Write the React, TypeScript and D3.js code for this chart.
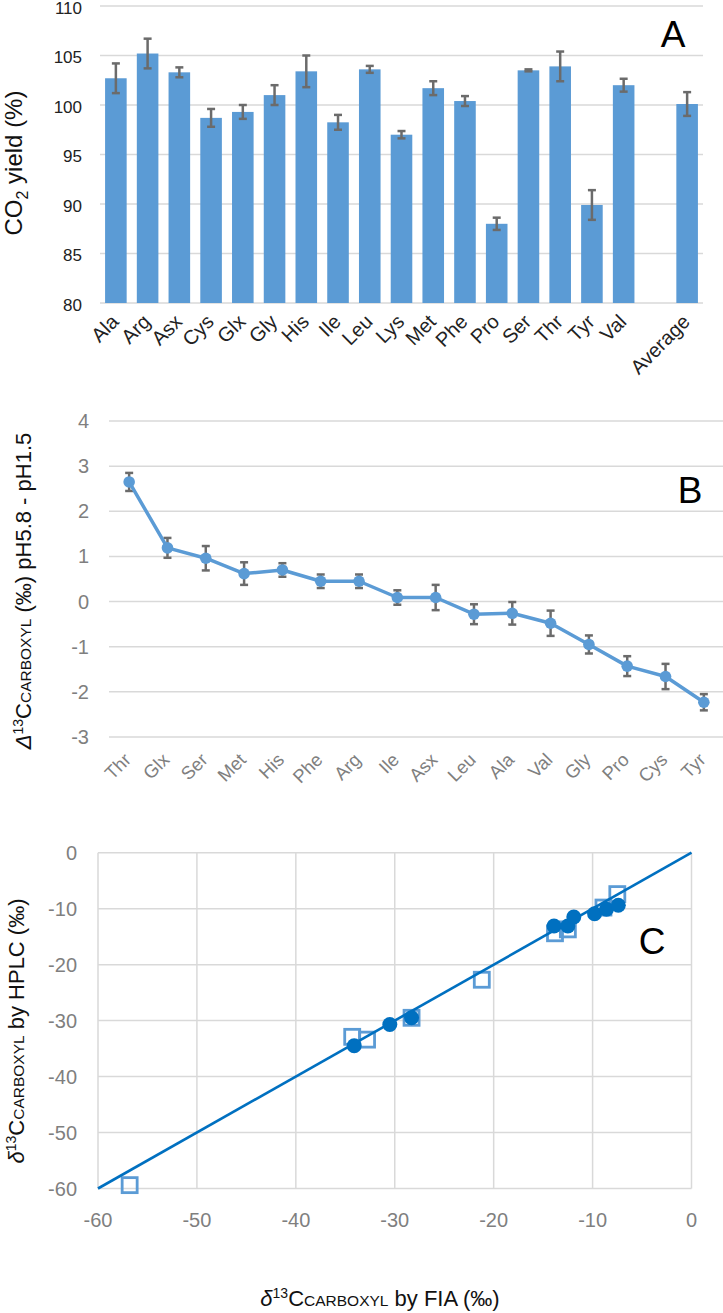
import React from "react";
import * as d3 from "d3";

const FONT = "'Liberation Sans', Arial, Helvetica, sans-serif";

// Panel A: CO2 yield (%)
const aCategories = ["Ala", "Arg", "Asx", "Cys", "Glx", "Gly", "His", "Ile", "Leu", "Lys", "Met", "Phe", "Pro", "Ser", "Thr", "Tyr", "Val", "", "Average"];
const aValues = [102.7, 105.2, 103.3, 98.7, 99.3, 101.0, 103.4, 98.25, 103.6, 97.0, 101.7, 100.4, 88.0, 103.5, 103.9, 89.9, 102.0, null, 100.1];
const aErrors = [1.5, 1.5, 0.5, 0.9, 0.7, 1.0, 1.6, 0.75, 0.35, 0.37, 0.7, 0.5, 0.62, 0.1, 1.5, 1.5, 0.65, null, 1.2];
const aTicks = [80, 85, 90, 95, 100, 105, 110];

// Panel B: Δ13C carboxyl pH5.8 - pH1.5
const bCategories = ["Thr", "Glx", "Ser", "Met", "His", "Phe", "Arg", "Ile", "Asx", "Leu", "Ala", "Val", "Gly", "Pro", "Cys", "Tyr"];
const bValues = [2.65, 1.19, 0.96, 0.62, 0.70, 0.45, 0.45, 0.09, 0.09, -0.28, -0.26, -0.48, -0.95, -1.43, -1.66, -2.23];
const bErrors = [0.2, 0.22, 0.27, 0.25, 0.15, 0.15, 0.15, 0.16, 0.28, 0.22, 0.25, 0.28, 0.2, 0.22, 0.28, 0.18];
const bTicks = [-3, -2, -1, 0, 1, 2, 3, 4];

// Panel C: δ13C carboxyl by FIA vs HPLC
const cSquareFIA = [-56.8, -34.3, -32.8, -28.3, -21.2, -13.8, -12.5, -8.9, -7.5];
const cSquareHPLC = [-59.4, -32.9, -33.4, -29.5, -22.7, -14.4, -13.7, -9.8, -7.4];
const cCircleFIA = [-34.1, -30.5, -28.3, -13.9, -12.5, -11.9, -9.8, -8.6, -7.4];
const cCircleHPLC = [-34.5, -30.7, -29.5, -13.1, -13.1, -11.5, -10.9, -10.1, -9.4];
const cLine = [[-60, -60], [0, 0]];
const cTicks = [-60, -50, -40, -30, -20, -10, 0];

const GRID = "#d9d9d9";
const BAR = "#5B9BD5";
const ERR = "#6b6b6b";
const DARK = "#0070C0";
const TICKGRAY = "#7f7f7f";

function PanelA() {
  const x = d3.scaleBand().domain(aCategories).range([100, 703]).paddingInner(0.32).paddingOuter(0.16);
  const y = d3.scaleLinear().domain([80, 110]).range([303, 6]);
  const bw = x.bandwidth();
  return (
    <g>
      {aTicks.map((t) => (
        <g key={t}>
          <line x1={100} x2={703} y1={y(t)} y2={y(t)} stroke={GRID} strokeWidth={1.5} />
          <text x={82} y={y(t)} dy="0.47em" textAnchor="end" fontSize={17} fill="#222">{t}</text>
        </g>
      ))}
      {aCategories.map((c, i) =>
        aValues[i] == null ? null : (
          <g key={"b" + i}>
            <rect x={x(c)} y={y(aValues[i] as number)} width={bw} height={y(80) - y(aValues[i] as number)} fill={BAR} />
          </g>
        )
      )}
      {aCategories.map((c, i) => {
        if (aValues[i] == null) return null;
        const v = aValues[i] as number;
        const e = aErrors[i] as number;
        const cx = (x(c) as number) + bw / 2;
        return (
          <g key={"e" + i} stroke={ERR} strokeWidth={2.5}>
            <line x1={cx} x2={cx} y1={y(v + e)} y2={y(v - e)} />
            <line x1={cx - 4} x2={cx + 4} y1={y(v + e)} y2={y(v + e)} />
            <line x1={cx - 4} x2={cx + 4} y1={y(v - e)} y2={y(v - e)} />
          </g>
        );
      })}
      {aCategories.map((c, i) =>
        c === "" ? null : (
          <text key={"l" + i} transform={`translate(${(x(c) as number) + bw / 2 + 4},${323}) rotate(-45)`} textAnchor="end" fontSize={20} fill="#222">{c}</text>
        )
      )}
      <text transform="translate(22,163) rotate(-90)" textAnchor="middle" fontSize={24} fill="#111">
        CO<tspan fontSize={16} dy={6}>2</tspan><tspan dy={-6}> yield (%)</tspan>
      </text>
      <text x={673} y={47} textAnchor="middle" fontSize={37} fill="#000">A</text>
    </g>
  );
}

function PanelB() {
  const x = d3.scalePoint().domain(bCategories).range([110, 723]).padding(0.5);
  const y = d3.scaleLinear().domain([-3, 4]).range([737, 421]);
  const line = d3.line<number>().x((_, i) => x(bCategories[i]) as number).y((d) => y(d));
  return (
    <g>
      {bTicks.map((t) => (
        <g key={t}>
          <line x1={109} x2={723} y1={y(t)} y2={y(t)} stroke={GRID} strokeWidth={1.5} />
          <text x={89} y={y(t)} dy="0.35em" textAnchor="end" fontSize={20} fill={TICKGRAY}>{t}</text>
        </g>
      ))}
      {bCategories.map((c, i) => {
        const cx = x(c) as number;
        const v = bValues[i];
        const e = bErrors[i];
        return (
          <g key={"e" + i} stroke={ERR} strokeWidth={2.5}>
            <line x1={cx} x2={cx} y1={y(v + e)} y2={y(v - e)} />
            <line x1={cx - 4} x2={cx + 4} y1={y(v + e)} y2={y(v + e)} />
            <line x1={cx - 4} x2={cx + 4} y1={y(v - e)} y2={y(v - e)} />
          </g>
        );
      })}
      <path d={line(bValues) as string} fill="none" stroke={BAR} strokeWidth={3.5} strokeLinejoin="round" />
      {bCategories.map((c, i) => (
        <circle key={"p" + i} cx={x(c) as number} cy={y(bValues[i])} r={5.8} fill={BAR} />
      ))}
      {bCategories.map((c, i) => (
        <text key={"l" + i} transform={`translate(${(x(c) as number) + 3},${761}) rotate(-45)`} textAnchor="end" fontSize={18.5} fill={TICKGRAY}>{c}</text>
      ))}
      <text transform="translate(31,591) rotate(-90)" textAnchor="middle" fontSize={22} fill="#111">
        <tspan fontStyle="italic">Δ</tspan>
        <tspan fontSize={14} dy={-8}>13</tspan>
        <tspan dy={8}>C</tspan>
        <tspan fontSize={15.5}>CARBOXYL</tspan>
        <tspan> (‰) pH5.8 - pH1.5</tspan>
      </text>
      <text x={690} y={503} textAnchor="middle" fontSize={37} fill="#000">B</text>
    </g>
  );
}

function PanelC() {
  const x = d3.scaleLinear().domain([-60, 0]).range([98, 691.5]);
  const y = d3.scaleLinear().domain([-60, 0]).range([1188.5, 852.7]);
  const line = d3.line<number[]>().x((d) => x(d[0])).y((d) => y(d[1]));
  const sq = 15;
  return (
    <g>
      {cTicks.map((t) => (
        <g key={t}>
          <line x1={x(-60)} x2={x(0)} y1={y(t)} y2={y(t)} stroke={GRID} strokeWidth={1.5} />
          <line x1={x(t)} x2={x(t)} y1={y(0)} y2={y(-60)} stroke={GRID} strokeWidth={1.5} />
          <text x={77} y={y(t)} dy="0.35em" textAnchor="end" fontSize={20} fill={TICKGRAY}>{t}</text>
          <text x={x(t)} y={1227} textAnchor="middle" fontSize={20} fill={TICKGRAY}>{t}</text>
        </g>
      ))}
      {cSquareFIA.map((v, i) => (
        <rect key={"s" + i} x={x(v) - sq / 2} y={y(cSquareHPLC[i]) - sq / 2} width={sq} height={sq} fill="none" stroke={BAR} strokeWidth={2.8} />
      ))}
      <path d={line(cLine) as string} fill="none" stroke={DARK} strokeWidth={2.6} />
      {cCircleFIA.map((v, i) => (
        <circle key={"c" + i} cx={x(v)} cy={y(cCircleHPLC[i])} r={7.5} fill={DARK} />
      ))}
      <text transform="translate(23.5,1031) rotate(-90)" textAnchor="middle" fontSize={22} fill="#111">
        <tspan fontStyle="italic">δ</tspan>
        <tspan fontSize={14} dy={-8}>13</tspan>
        <tspan dy={8}>C</tspan>
        <tspan fontSize={15.5}>CARBOXYL</tspan>
        <tspan> by HPLC (‰)</tspan>
      </text>
      <text x={380} y={1306} textAnchor="middle" fontSize={22} fill="#111">
        <tspan fontStyle="italic">δ</tspan>
        <tspan fontSize={14} dy={-8}>13</tspan>
        <tspan dy={8}>C</tspan>
        <tspan fontSize={15.5}>CARBOXYL</tspan>
        <tspan> by FIA (‰)</tspan>
      </text>
      <text x={652} y={954} textAnchor="middle" fontSize={37} fill="#000">C</text>
    </g>
  );
}

export default function App() {
  return (
    <svg
      width={723}
      height={1313}
      viewBox="0 0 723 1313"
      style={{ position: "absolute", left: 0, top: 0, background: "#fff" }}
      fontFamily={FONT}
    >
      <rect x={0} y={0} width={723} height={1313} fill="#fff" />
      <PanelA />
      <PanelB />
      <PanelC />
    </svg>
  );
}
